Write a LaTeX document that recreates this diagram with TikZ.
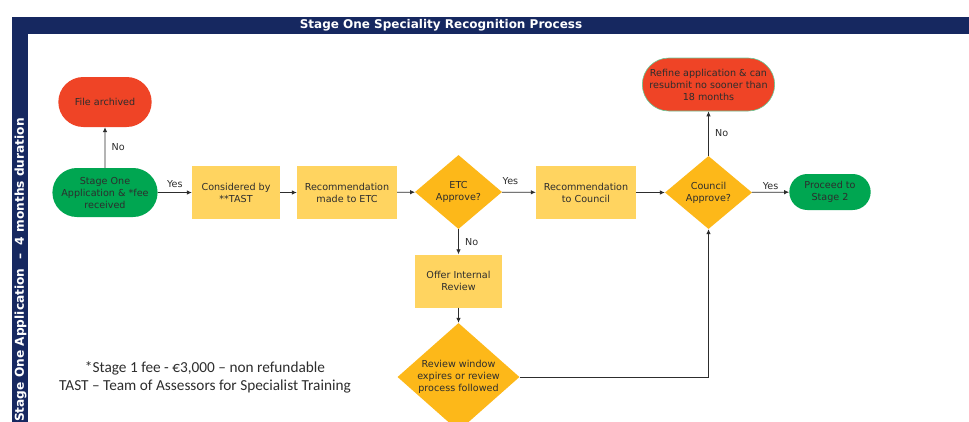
\documentclass[tikz,border=0pt]{standalone}
\usepackage{fontspec}
\setmainfont{DejaVu Sans}
\newfontfamily\notefont{Carlito}
\usetikzlibrary{shapes.geometric, shapes.misc, arrows.meta}

\definecolor{navyband}{RGB}{22,40,96}
\definecolor{redstop}{RGB}{239,68,38}
\definecolor{greenstop}{RGB}{0,166,81}
\definecolor{boxyellow}{RGB}{255,212,96}
\definecolor{askorange}{RGB}{253,184,25}
\definecolor{inkgray}{RGB}{45,45,45}
\newcommand\flowfont{\fontsize{9.6}{12}\selectfont}

\begin{document}
\begin{tikzpicture}[x=1pt, y=-1pt,
		box/.style={rectangle, fill=boxyellow, minimum width=88pt, minimum height=53pt, align=center, text=inkgray, font=\flowfont},
		ask/.style={diamond, fill=askorange, inner sep=-4pt, align=center, text=inkgray, font=\flowfont},
		stop/.style={rounded rectangle, fill=redstop, minimum width=100pt, minimum height=50pt, align=center, text=inkgray, font=\flowfont},
		go/.style={rounded rectangle, fill=greenstop, minimum width=100pt, minimum height=49pt, align=center, text=inkgray, font=\flowfont},
		link/.style={draw=inkgray, line width=0.8pt, -{Latex[length=5pt,width=4.5pt]}},
		answer/.style={font=\flowfont, text=inkgray}]
	\useasboundingbox (0,0) rectangle (969,421);
	
	% Рамка и заголовки
	\fill[navyband] (12,16.5) rectangle (980,430);
	\fill[white] (28,34) rectangle (980,430);
	\node[font=\bfseries\fontsize{12}{14}\selectfont, text=white] (title) at (441,25.5) {Stage One Speciality Recognition Process};
	\node[rotate=90, font=\bfseries\fontsize{12.2}{14}\selectfont, text=white] (lane) at (20.5,270) {Stage One Application \ – \ 4 months duration};
	
	% Блоки схемы
	\node[stop] (archived) at (105,102) {File archived};
	\node[go] (start) at (105,192.5) {Stage One\\Application \& *fee\\received};
	\node[box] (tast) at (236,192.5) {Considered by\\**TAST};
	\node[box, minimum width=100pt] (toetc) at (347,192.5) {Recommendation\\made to ETC};
	\node[ask, minimum width=87pt, minimum height=74pt] (etc) at (458.5,192) {ETC\\Approve?};
	\node[box, minimum width=100pt] (tocouncil) at (586,192.5) {Recommendation\\to Council};
	\node[ask, minimum width=87pt, minimum height=73pt] (council) at (708.5,192.5) {Council\\Approve?};
	\node[go, minimum width=88pt, minimum height=36pt] (proceed) at (830,192) {Proceed to\\Stage 2};
	\node[stop, draw=greenstop!60, line width=0.6pt, minimum width=139pt, minimum height=53pt] (refine) at (708.5,84.5) {Refine application \& can\\resubmit no sooner than\\18 months};
	\node[box, minimum width=87pt] (internal) at (458.5,281) {Offer Internal\\Review};
	\node[ask, minimum width=122pt, minimum height=108pt, inner sep=-9pt] (window) at (458.5,377) {Review window\\expires or review\\process followed};
	
	% Стрелки
	\draw[link] (start) -- (archived) node[answer, midway, right=3pt] {No};
	\draw[link] (start) -- (tast) node[answer, midway, above=1pt] {Yes};
	\draw[link] (tast) -- (toetc);
	\draw[link] (toetc) -- (etc);
	\draw[link] (etc) -- (tocouncil) node[answer, pos=0.25, above=4pt] {Yes};
	\draw[link] (etc) -- (internal) node[answer, midway, right=3pt] {No};
	\draw[link] (internal) -- (window);
	\draw[link] (window.east) -| (council.south);
	\draw[link] (tocouncil) -- (council);
	\draw[link] (council) -- (proceed) node[answer, midway, above=-1pt] {Yes};
	\draw[link] (council) -- (refine) node[answer, midway, right=3pt] {No};
	
	% Примечания
	\node[font=\notefont\fontsize{15.3}{18}\selectfont, align=center, text=inkgray] (note) at (205,377) {*Stage 1 fee - €3,000 – non refundable\\TAST – Team of Assessors for Specialist Training};
\end{tikzpicture}
\end{document}
